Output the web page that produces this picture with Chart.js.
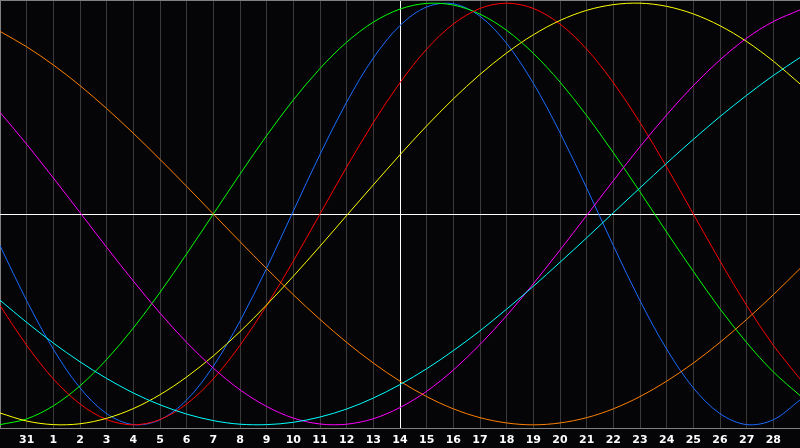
<!DOCTYPE html>
<html>
<head>
<meta charset="utf-8">
<script src="https://cdn.jsdelivr.net/npm/chart.js@4/dist/chart.umd.min.js"></script>
<style>
  html, body { margin: 0; padding: 0; background: #050508; }
  #wrap { width: 800px; height: 448px; position: relative; }
</style>
</head>
<body>
<div id="wrap"><canvas id="bio"></canvas></div>
<script>
// day labels under the gridlines (positions 1..29), ends left blank
const dayLabels = ['', '31', '1', '2', '3', '4', '5', '6', '7', '8', '9', '10', '11', '12', '13',
    '14', '15', '16', '17', '18', '19', '20', '21', '22', '23', '24', '25', '26', '27', '28', ''];
const todayPos = 15;

// curve values, one per gridline (0..30), range -1..1
const physical = [-0.150, -0.411, -0.641, -0.825, -0.947, -0.999, -0.976, -0.882, -0.722, -0.508, -0.257,
    0.014, 0.283, 0.531, 0.740, 0.894, 0.982, 0.997, 0.938, 0.809, 0.620, 0.386, 0.123, -0.150, -0.411,
    -0.641, -0.825, -0.947, -0.999, -0.976, -0.882];
const emotional = [-0.434, -0.623, -0.782, -0.901, -0.975, -1.000, -0.975, -0.901, -0.782, -0.623, -0.434,
    -0.223, 0.000, 0.223, 0.434, 0.623, 0.782, 0.901, 0.975, 1.000, 0.975, 0.901, 0.782, 0.623, 0.434,
    0.223, 0.000, -0.223, -0.434, -0.623, -0.782];
const intellectual = [-0.999, -0.972, -0.910, -0.815, -0.690, -0.541, -0.372, -0.189, 0.000, 0.189, 0.372,
    0.541, 0.690, 0.815, 0.910, 0.972, 0.999, 0.991, 0.948, 0.871, 0.762, 0.626, 0.467, 0.291, 0.105,
    -0.086, -0.272, -0.450, -0.610, -0.749, -0.861];
const intuitive = [0.482, 0.331, 0.171, 0.007, -0.158, -0.318, -0.470, -0.609, -0.731, -0.834, -0.913,
    -0.968, -0.996, -0.997, -0.971, -0.918, -0.841, -0.740, -0.619, -0.482, -0.331, -0.171, -0.007, 0.158, 0.319,
    0.470, 0.609, 0.731, 0.834, 0.913, 0.968];
const aesthetic = [-0.944, -0.982, -0.999, -0.995, -0.969, -0.923, -0.857, -0.773, -0.673, -0.558, -0.431,
    -0.295, -0.153, -0.007, 0.138, 0.281, 0.418, 0.546, 0.662, 0.764, 0.850, 0.918, 0.966, 0.993, 1.000,
    0.985, 0.949, 0.893, 0.818, 0.725, 0.617];
const awareness = [0.866, 0.793, 0.707, 0.609, 0.500, 0.383, 0.259, 0.131, 0.000, -0.131, -0.259,
    -0.383, -0.500, -0.609, -0.707, -0.793, -0.866, -0.924, -0.966, -0.991, -1.000, -0.991, -0.966, -0.924, -0.866,
    -0.793, -0.707, -0.609, -0.500, -0.383, -0.259];
const spiritual = [-0.409, -0.514, -0.612, -0.701, -0.780, -0.849, -0.905, -0.949, -0.980, -0.997, -0.999,
    -0.988, -0.963, -0.925, -0.873, -0.809, -0.734, -0.648, -0.554, -0.451, -0.343, -0.229, -0.113, 0.006, 0.124,
    0.241, 0.354, 0.462, 0.563, 0.657, 0.742];

const yLimit = 1.015;

function toPoints(values) {
    return values.map((v, i) => ({ x: i, y: v }));
}

function series(label, values, color) {
    return {
        label: label,
        data: toPoints(values),
        borderColor: color,
        backgroundColor: color,
        borderWidth: 1,
        pointRadius: 0,
        fill: false,
        tension: 0.33,
    };
}

const ctx = document.getElementById('bio').getContext('2d');
new Chart(ctx, {
    type: 'line',
    data: {
        datasets: [
            series('Spiritual', spiritual, '#00ffff'),
            series('Awareness', awareness, '#ff8000'),
            series('Intuitive', intuitive, '#ff00ff'),
            series('Aesthetic', aesthetic, '#ffff00'),
            series('Emotional', emotional, '#ff0000'),
            series('Intellectual', intellectual, '#00ff00'),
            series('Physical', physical, '#1a6cff'),
        ],
    },
    options: {
        responsive: true,
        maintainAspectRatio: false,
        animation: false,
        layout: { padding: 0 },
        plugins: {
            legend: { display: false },
            tooltip: { enabled: false },
        },
        scales: {
            x: {
                type: 'linear',
                min: 0,
                max: 30,
                afterBuildTicks: (scale) => {
                    scale.ticks = dayLabels.map((_, i) => ({ value: i }));
                },
                // plot runs edge to edge, labels sit in a 20px strip below
                afterFit: (scale) => {
                    scale.paddingLeft = 0;
                    scale.paddingRight = 0;
                    scale.height = 20;
                },
                ticks: {
                    autoSkip: false,
                    maxRotation: 0,
                    padding: 6,
                    color: '#ffffff',
                    font: { family: 'DejaVu Sans', size: 11, weight: 'bold' },
                    callback: (value) => dayLabels[value],
                },
                grid: {
                    drawTicks: false,
                    lineWidth: 1,
                    color: (c) => {
                        const v = c.tick ? c.tick.value : -1;
                        if (v === todayPos) return '#ffffff';
                        if (v === 0 || v === 30) return '#808080';
                        return '#3a3a3a';
                    },
                },
                border: { display: true, color: '#808080', width: 1 },
            },
            y: {
                min: -yLimit,
                max: yLimit,
                afterBuildTicks: (scale) => {
                    scale.ticks = [{ value: -yLimit }, { value: 0 }, { value: yLimit }];
                },
                afterFit: (scale) => {
                    scale.width = 0;
                },
                ticks: { display: false },
                grid: {
                    drawTicks: false,
                    color: (c) => (c.tick && c.tick.value === 0 ? '#ffffff' : '#808080'),
                },
                border: { display: false },
            },
        },
    },
});
</script>
</body>
</html>
